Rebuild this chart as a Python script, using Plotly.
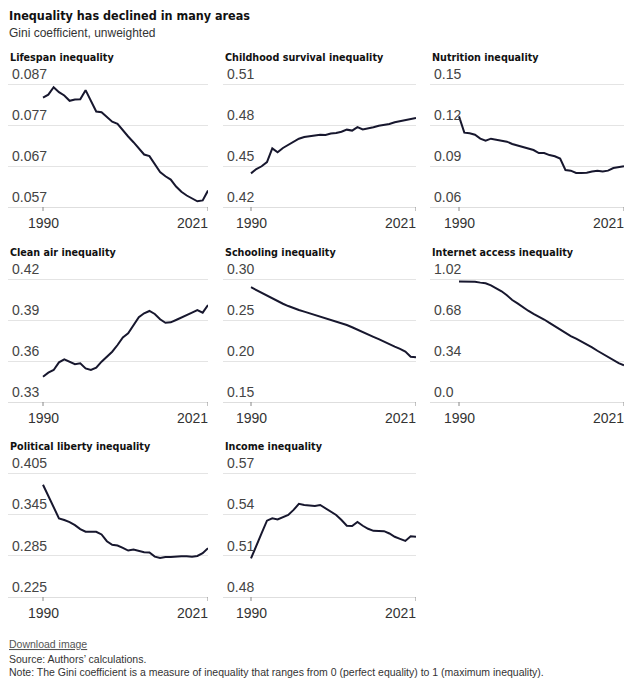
import plotly.graph_objects as go

years = list(range(1990, 2022))

lifespan = [0.0837, 0.0844, 0.0862, 0.0850, 0.0842, 0.0829, 0.0832, 0.0833, 0.0855, 0.0828,
            0.0803, 0.0801, 0.0790, 0.0778, 0.0773, 0.0757, 0.0742, 0.0728, 0.0714, 0.0698,
            0.0694, 0.0674, 0.0655, 0.0645, 0.0637, 0.0620, 0.0607, 0.0598, 0.0590, 0.0584,
            0.0586, 0.0610]
childhood = [0.4446, 0.4478, 0.4498, 0.4529, 0.4629, 0.4600, 0.4632, 0.4656, 0.4676, 0.4700,
             0.4712, 0.4720, 0.4724, 0.4729, 0.4727, 0.4737, 0.4741, 0.4751, 0.4766, 0.4759,
             0.4785, 0.4768, 0.4773, 0.4783, 0.4795, 0.4800, 0.4807, 0.4820, 0.4827, 0.4834,
             0.4846, 0.4851]
nutrition = [0.1263, 0.1144, 0.1139, 0.1129, 0.1100, 0.1085, 0.1100, 0.1093, 0.1088, 0.1078,
             0.1061, 0.1051, 0.1037, 0.1027, 0.1017, 0.0995, 0.0995, 0.0980, 0.0971, 0.0954,
             0.0871, 0.0866, 0.0849, 0.0849, 0.0851, 0.0859, 0.0866, 0.0859, 0.0866, 0.0885,
             0.0890, 0.0898]
clean_air = [0.3485, 0.3515, 0.3534, 0.3590, 0.3612, 0.3593, 0.3576, 0.3583, 0.3546, 0.3534,
             0.3551, 0.3595, 0.3632, 0.3668, 0.3717, 0.3773, 0.3802, 0.3863, 0.3920, 0.3949,
             0.3966, 0.3944, 0.3905, 0.3880, 0.3883, 0.3900, 0.3920, 0.3937, 0.3954, 0.3973,
             0.3954, 0.4010]
schooling = [0.2900, 0.2865, 0.2830, 0.2795, 0.2760, 0.2730, 0.2698, 0.2670, 0.2643, 0.2622,
             0.2602, 0.2582, 0.2561, 0.2543, 0.2525, 0.2505, 0.2484, 0.2462, 0.2439, 0.2412,
             0.2385, 0.2355, 0.2324, 0.2295, 0.2266, 0.2233, 0.2201, 0.2175, 0.2148, 0.2115,
             0.2052, 0.2045]
internet = [1.000, 1.000, 1.000, 0.997, 0.990, 0.984, 0.967, 0.945, 0.918, 0.885,
            0.846, 0.818, 0.785, 0.757, 0.730, 0.710, 0.684, 0.656, 0.628, 0.600,
            0.572, 0.547, 0.525, 0.503, 0.478, 0.453, 0.425, 0.398, 0.372, 0.345,
            0.323, 0.304]
political = [0.3879, 0.3709, 0.3538, 0.3392, 0.3367, 0.3338, 0.3294, 0.3236, 0.3197, 0.3192,
             0.3197, 0.3158, 0.3060, 0.3007, 0.2997, 0.2963, 0.2924, 0.2939, 0.2919, 0.2900,
             0.2895, 0.2836, 0.2816, 0.2831, 0.2831, 0.2841, 0.2841, 0.2841, 0.2836, 0.2846,
             0.2885, 0.2958]
income = [0.5080, 0.5165, 0.5263, 0.5354, 0.5371, 0.5363, 0.5378, 0.5395, 0.5432, 0.5476,
          0.5468, 0.5463, 0.5461, 0.5468, 0.5444, 0.5424, 0.5395, 0.5359, 0.5317, 0.5315,
          0.5344, 0.5317, 0.5295, 0.5280, 0.5280, 0.5278, 0.5261, 0.5237, 0.5222, 0.5207,
          0.5241, 0.5237]

panel_titles = ["Lifespan inequality", "Childhood survival inequality", "Nutrition inequality",
                "Clean air inequality", "Schooling inequality", "Internet access inequality",
                "Political liberty inequality", "Income inequality"]
series = [lifespan, childhood, nutrition, clean_air, schooling, internet, political, income]

ytickvals = [
    [0.057, 0.067, 0.077, 0.087],
    [0.42, 0.45, 0.48, 0.51],
    [0.06, 0.09, 0.12, 0.15],
    [0.33, 0.36, 0.39, 0.42],
    [0.15, 0.20, 0.25, 0.30],
    [0.0, 0.34, 0.68, 1.02],
    [0.225, 0.285, 0.345, 0.405],
    [0.48, 0.51, 0.54, 0.57],
]
yticktext = [
    ["0.057", "0.067", "0.077", "0.087"],
    ["0.42", "0.45", "0.48", "0.51"],
    ["0.06", "0.09", "0.12", "0.15"],
    ["0.33", "0.36", "0.39", "0.42"],
    ["0.15", "0.20", "0.25", "0.30"],
    ["0.0", "0.34", "0.68", "1.02"],
    ["0.225", "0.285", "0.345", "0.405"],
    ["0.48", "0.51", "0.54", "0.57"],
]
xtickvals = [1990, 2021]
xticktext = ["1990", "2021"]

title = "Inequality has declined in many areas"
subtitle = "Gini coefficient, unweighted"
footer_link = "Download image"
source = "Source: Authors’ calculations."
note = "Note: The Gini coefficient is a measure of inequality that ranges from 0 (perfect equality) to 1 (maximum inequality)."

# ---- layout geometry (pixels) ----
W, H = 634, 680
cols = [(8, 43, 208), (223, 251, 416), (430, 459, 624)]   # left edge, first-year tick, right edge
rows = [(84, 207, 57), (279, 402, 252), (473, 597, 446)]  # top grid, bottom grid, title y
HEAD = 18  # room above the top gridline for its label
TICKLEN = 4

def px(x):
    return x / W

def py(y):
    return 1 - y / H

LINE = "#17172e"
BOLD_FONT = "Liberation Sans Narrow, DejaVu Sans Condensed, Roboto Condensed, Liberation Sans"
REG_FONT = "Liberation Sans, Arial, sans-serif"
year_anchor = ["center", "right"]   # first year centred on its tick, last year ends at its tick
year_xshift = [0, 2]

fig = go.Figure()
annotations = []
shapes = []

for i, (name, vals) in enumerate(zip(panel_titles, series)):
    r, c = divmod(i, 3)
    left, tick1990, right = cols[c]
    top, bottom, ty = rows[r]
    frac = (tick1990 - left) / (right - left)
    span = (xtickvals[1] - xtickvals[0]) / (1 - frac)
    x0 = xtickvals[1] - span
    n = i + 1
    xa = "xaxis" if n == 1 else f"xaxis{n}"
    ya = "yaxis" if n == 1 else f"yaxis{n}"
    xref = "x" if n == 1 else f"x{n}"
    yref = "y" if n == 1 else f"y{n}"
    fig.add_trace(go.Scatter(x=years, y=vals, mode="lines", xaxis=xref, yaxis=yref,
                             line=dict(color=LINE, width=2), hoverinfo="skip", showlegend=False))
    tv = ytickvals[i]
    per_px = (tv[-1] - tv[0]) / (bottom - top)
    rng = [tv[0], tv[-1] + HEAD * per_px]
    dom_h = bottom - (top - HEAD)
    fig.layout[xa] = dict(domain=[px(left), px(right)], range=[x0, xtickvals[1]], anchor="free",
                          position=py(bottom), showticklabels=False, ticks="",
                          showline=True, linecolor="#dedede",
                          linewidth=1, showgrid=False, zeroline=False, fixedrange=True)
    fig.layout[ya] = dict(domain=[py(bottom), py(top - HEAD)], range=rng, anchor="free",
                          position=px(left),
                          tickvals=tv, ticktext=yticktext[i], ticks="", showline=False,
                          showgrid=True, gridcolor="#e4e4e4", gridwidth=1,
                          zeroline=(name == "Internet access inequality"), zerolinecolor="#999",
                          zerolinewidth=1, ticklabelposition="inside top",
                          tickfont=dict(family=REG_FONT, size=14, color="#444"), fixedrange=True)
    for k, xv in enumerate(xtickvals):
        shapes.append(dict(type="line", xref=xref, yref=f"{yref} domain", x0=xv, x1=xv,
                           y0=0, y1=-TICKLEN / dom_h, line=dict(color="#888", width=1)))
        annotations.append(dict(text=xticktext[k], x=xv, y=0, xref=xref, yref=f"{yref} domain",
                                xanchor=year_anchor[k], yanchor="top", yshift=-6,
                                xshift=year_xshift[k], showarrow=False,
                                font=dict(family=REG_FONT, size=14, color="#333")))
    annotations.append(dict(text=f"<b>{name}</b>", x=px(left), y=py(ty), xref="paper", yref="paper",
                            xanchor="left", yanchor="middle", showarrow=False,
                            font=dict(family=BOLD_FONT, size=10.7, color="#111")))

annotations += [
    dict(text=f"<b>{title}</b>", x=px(7), y=py(15), xref="paper", yref="paper", xanchor="left",
         yanchor="middle", showarrow=False, font=dict(family=BOLD_FONT, size=12.5, color="#111")),
    dict(text=subtitle, x=px(7), y=py(33), xref="paper", yref="paper", xanchor="left",
         yanchor="middle", showarrow=False, font=dict(family=REG_FONT, size=12, color="#333")),
    dict(text=f"<u>{footer_link}</u>", x=px(7), y=py(644), xref="paper", yref="paper", xanchor="left",
         yanchor="middle", showarrow=False, font=dict(family=REG_FONT, size=10.5, color="#555")),
    dict(text=source, x=px(7), y=py(659), xref="paper", yref="paper", xanchor="left",
         yanchor="middle", showarrow=False, font=dict(family=REG_FONT, size=10.5, color="#333")),
    dict(text=note, x=px(7), y=py(680), xref="paper", yref="paper", xanchor="left",
         yanchor="bottom", showarrow=False, font=dict(family=REG_FONT, size=10.5, color="#333")),
]

fig.update_layout(width=W, height=H, margin=dict(l=0, r=0, t=0, b=0),
                  paper_bgcolor="white", plot_bgcolor="white", annotations=annotations,
                  shapes=shapes, showlegend=False)

fig.write_html("out.html", config={"displayModeBar": False},
               post_script="document.body.style.margin='0';document.body.style.overflow='hidden';")
